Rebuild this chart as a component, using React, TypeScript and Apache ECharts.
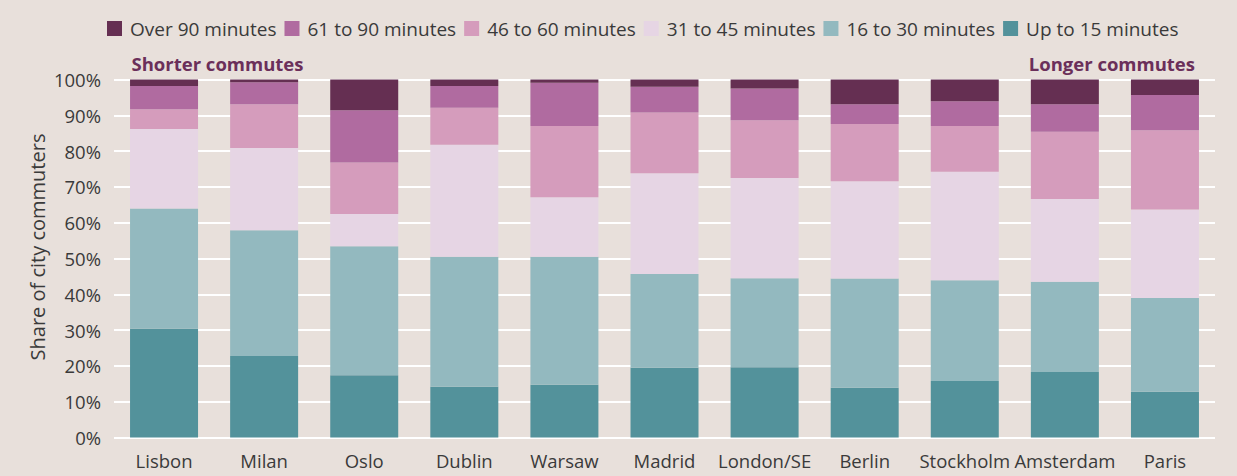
import React, { useEffect, useRef } from "react";
import * as echarts from "echarts";

const categories = ["Lisbon", "Milan", "Oslo", "Dublin", "Warsaw", "Madrid", "London/SE", "Berlin", "Stockholm", "Amsterdam", "Paris"];
const upTo15 = [30.4, 22.8, 17.4, 14.2, 14.7, 19.5, 19.6, 13.9, 15.8, 18.3, 12.8];
const m16to30 = [33.6, 35.1, 36.0, 36.3, 35.8, 26.2, 24.9, 30.5, 28.1, 25.2, 26.2];
const m31to45 = [22.2, 23.0, 9.0, 31.3, 16.6, 28.1, 28.0, 27.2, 30.3, 23.1, 24.7];
const m46to60 = [5.5, 12.2, 14.4, 10.3, 19.9, 17.0, 16.1, 16.0, 12.8, 18.8, 22.1];
const m61to90 = [6.5, 6.1, 14.6, 6.1, 12.1, 7.2, 8.9, 5.5, 6.9, 7.7, 9.9];
const over90 = [1.8, 0.8, 8.6, 1.8, 0.9, 2.0, 2.5, 6.9, 6.1, 6.9, 4.3];

const seriesNames = ["Up to 15 minutes", "16 to 30 minutes", "31 to 45 minutes", "46 to 60 minutes", "61 to 90 minutes", "Over 90 minutes"];
const seriesValues = [upTo15, m16to30, m31to45, m46to60, m61to90, over90];
const seriesColors = ["#53929b", "#93b9bf", "#e6d5e4", "#d59cbc", "#b06ba0", "#652f52"];
const legendOrder = ["Over 90 minutes", "61 to 90 minutes", "46 to 60 minutes", "31 to 45 minutes", "16 to 30 minutes", "Up to 15 minutes"];

const FONT = "'Open Sans', sans-serif";
const TEXT = "#3a3a3a";
const TITLE = "#6b2f5a";

export default function App() {
  const ref = useRef<HTMLDivElement>(null);
  useEffect(() => {
    document.body.style.margin = "0";
    if (!ref.current) return;
    const chart = echarts.init(ref.current, undefined, { renderer: "svg" });
    chart.setOption({
      animation: false,
      backgroundColor: "#e8e0db",
      textStyle: { fontFamily: FONT },
      legend: {
        data: legendOrder,
        left: 102,
        top: 14,
        itemWidth: 15,
        itemHeight: 15,
        itemGap: 8,
        icon: "rect",
        textStyle: { fontFamily: FONT, fontSize: 19, color: TEXT, padding: [0, 0, 0, 3] },
      },
      grid: { left: 114, right: 22, top: 79.5, bottom: 38.5, containLabel: false },
      xAxis: {
        type: "category",
        data: categories,
        axisLine: { show: false },
        axisTick: { show: false },
        axisLabel: { interval: 0, fontFamily: FONT, fontSize: 18.5, color: TEXT, margin: 13 },
      },
      yAxis: {
        type: "value",
        min: 0,
        max: 100,
        interval: 10,
        axisLine: { show: false },
        axisTick: { show: false },
        axisLabel: { formatter: "{value}%", fontFamily: FONT, fontSize: 18.5, color: TEXT, margin: 13 },
        splitLine: { show: true, lineStyle: { color: "#ffffff", width: 2 } },
      },
      graphic: [
        {
          type: "text",
          x: 131.5,
          y: 63.5,
          style: { text: "Shorter commutes", fontFamily: FONT, fontSize: 18.5, fontWeight: "bold", fill: TITLE, align: "left", verticalAlign: "middle" },
        },
        {
          type: "text",
          x: 1195,
          y: 63.5,
          style: { text: "Longer commutes", fontFamily: FONT, fontSize: 18.5, fontWeight: "bold", fill: TITLE, align: "right", verticalAlign: "middle" },
        },
        {
          type: "text",
          x: 37,
          y: 247,
          rotation: Math.PI / 2,
          style: { text: "Share of city commuters", fontFamily: FONT, fontSize: 20, fill: TEXT, align: "center", verticalAlign: "middle" },
        },
      ],
      series: seriesNames.map((name, i) => ({
        name,
        type: "bar",
        stack: "total",
        barWidth: 68,
        data: seriesValues[i],
        itemStyle: { color: seriesColors[i] },
        emphasis: { disabled: true },
      })),
    });
    return () => chart.dispose();
  }, []);
  return <div ref={ref} style={{ width: 1237, height: 476 }} />;
}
